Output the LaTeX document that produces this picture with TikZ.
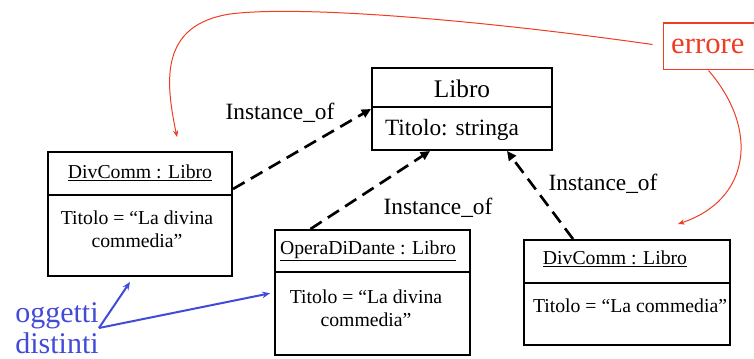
\documentclass[tikz,border=0pt]{standalone}
\usepackage{fontspec}
\setmainfont{Liberation Serif}
\usepackage{tikz}
\usetikzlibrary{calc,arrows.meta}

\begin{document}
\begin{tikzpicture}[x=0.75pt,y=0.75pt,yscale=-1,xscale=1,
    umlbox/.style={draw, line width=1.5pt, inner sep=0pt},
    objtext/.style={font=\fontsize{14.8}{17.5}\selectfont, inner sep=0.75pt},
    clstext/.style={font=\fontsize{17.5}{20}\selectfont, inner sep=0.75pt},
    instof/.style={line width=2pt, dash pattern=on 10pt off 5.5pt, -{Triangle[length=7pt,width=6.5pt]}},
    errline/.style={color={rgb, 255:red, 240; green, 60; blue, 35}, line width=0.75pt, -{Stealth[length=5pt,width=4pt]}},
    blueline/.style={color={rgb, 255:red, 65; green, 75; blue, 215}, line width=1.5pt, -{Stealth[length=6pt,width=5pt]}}]
                \useasboundingbox (0,0) rectangle (754,359);

                %Shape: Rectangle (class)
                \node [umlbox, minimum width=135pt, minimum height=61.5pt] (libro) at (462,109) {};
                \draw [line width=1.5pt] (372,107) -- (552,107) ;
                %Shape: Rectangle (left object)
                \node [umlbox, minimum width=138pt, minimum height=93pt] (divl) at (140,214) {};
                \draw [line width=1.5pt] (48,195) -- (232,195) ;
                %Shape: Rectangle (middle object)
                \node [umlbox, minimum width=146.25pt, minimum height=93.75pt] (opera) at (372.5,292.5) {};
                \draw [line width=1.5pt] (275,272) -- (470,272) ;
                %Shape: Rectangle (right object)
                \node [umlbox, minimum width=154.5pt, minimum height=78.75pt] (divr) at (627,292.5) {};
                \draw [line width=1.5pt] (524,283) -- (730,283) ;

                % Text Node
                \node [clstext, font=\fontsize{19}{22}\selectfont] (librohead) at (462,89) {Libro};
                \node [clstext] (librobody) at (452,130) {Titolo: stringa};
                \node [objtext] (divlhead) at (140,173) {\underline{DivComm : Libro}};
                \node [objtext, align=center] (divlbody) at (137,229) {Titolo = “La divina\\commedia”};
                \node [objtext] (operahead) at (368,251) {\underline{OperaDiDante : Libro}};
                \node [objtext, align=center] (operabody) at (366,308) {Titolo = “La divina\\commedia”};
                \node [objtext] (divrhead) at (615,259) {\underline{DivComm : Libro}};
                \node [objtext] (divrbody) at (630,306) {Titolo = “La commedia”};

                %Straight Lines (instance of)
                \draw [instof] ($(divl.east)+(0,-25)$) -- (libro.west) ;
                \draw [instof] ($(opera.north)+(-62,0)$) -- ($(libro.south)+(-32,0)$) ;
                \draw [instof] ($(divr.north)+(-54,0)$) -- ($(libro.south)+(45,0)$) ;
                \node [clstext] (inst1) at (280,113) {Instance\_of};
                \node [clstext] (inst2) at (438,208) {Instance\_of};
                \node [clstext] (inst3) at (603,184) {Instance\_of};

                % Error box
                \node [draw={rgb, 255:red, 240; green, 60; blue, 35}, line width=1pt, minimum width=71pt, minimum height=35pt,
                       text={rgb, 255:red, 240; green, 60; blue, 35}, font=\fontsize{23}{26}\selectfont] (err) at (710.5,46.5) {\hspace*{-4pt}errore};
                \coordinate (errtipl) at (177,137);
                \coordinate (errtipr) at (678,224);
                %Curve Lines
                \draw [errline] ($(err.west)+(-10,-2)$) .. controls (480,20) and (300,5) .. (230,14) .. controls (160,25) and (165,80) .. (errtipl) ;
                %Curve Lines
                \draw [errline] ($(err.south)+(-2,0)$) .. controls (760,130) and (750,200) .. (errtipr) ;

                % Text Node
                \node [color={rgb, 255:red, 65; green, 75; blue, 215}, font=\fontsize{22.5}{23.5}\selectfont, align=left, inner sep=0pt] (ogg) at (57,328) {oggetti\\distinti};
                %Straight Lines
                \draw [blueline] (ogg.east) -- ($(divl.south)+(-10,5)$) ;
                \draw [blueline, shorten >=3pt] (ogg.east) -- (opera.west) ;
\end{tikzpicture}
\end{document}
